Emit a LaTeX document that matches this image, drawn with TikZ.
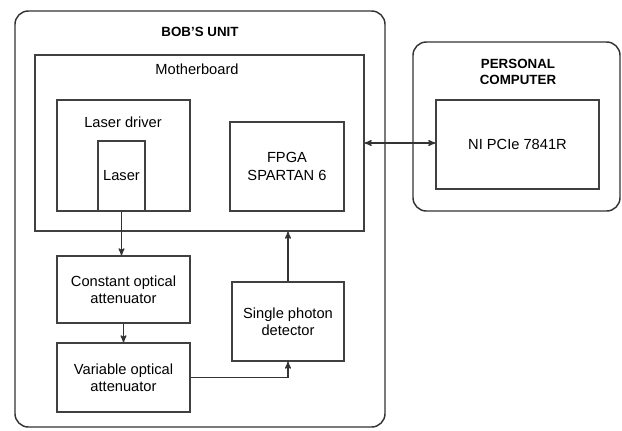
\documentclass[tikz,border=0pt]{standalone}
\usepackage{fontspec}
\setmainfont{Liberation Sans}
\usepackage{tikz}
\usetikzlibrary{arrows,positioning,calc}
\tikzset{
>=stealth',
  unit/.style={
    rectangle,
    rounded corners=10pt,
    draw=black!80, line width=1.1pt},
  block/.style={
    rectangle,
    draw=black!75, line width=0.9pt,
    align=center,
    inner sep=0pt},
  title/.style={font=\bfseries, align=center},
  line/.style={draw=black!80, line width=0.9pt, ->},
}

\begin{document}
\begin{tikzpicture}[x=0.75pt,y=-0.75pt,font=\fontsize{11}{13}\selectfont]
      \useasboundingbox (0,0) rectangle (622,430);

      % bob's unit
      \node (bob) at (200,219) [unit, minimum width=370*0.75pt, minimum height=416*0.75pt] {};
      \node (bobtitle) at (200,32) [title] {BOB'S UNIT};

      \node (mb) at (199.5,143) [block, minimum width=329*0.75pt, minimum height=176*0.75pt] {};
      \node (mbtitle) at (197,69) {Motherboard};

      \node (drv) at (123.5,155.5) [block, minimum width=133*0.75pt, minimum height=111*0.75pt] {};
      \node (drvtitle) at (123,122) {Laser driver};
      \node (laser) at (121.5,176) [block, minimum width=47*0.75pt, minimum height=70*0.75pt] {Laser};

      \node (fpga) at (287,166.5) [block, minimum width=114*0.75pt, minimum height=89*0.75pt] {FPGA\\SPARTAN 6};

      \node (coa) at (123.5,289.5) [block, minimum width=133*0.75pt, minimum height=67*0.75pt] {Constant optical\\attenuator};
      \node (voa) at (123.5,377.5) [block, minimum width=133*0.75pt, minimum height=69*0.75pt] {Variable optical\\attenuator};
      \node (spd) at (288,321.5) [block, minimum width=112*0.75pt, minimum height=79*0.75pt] {Single photon\\detector};

      % personal computer
      \node (pc) at (516.5,126.5) [unit, minimum width=207*0.75pt, minimum height=169*0.75pt] {};
      \node (pctitle) at (518,72) [title] {PERSONAL\\COMPUTER};
      \node (ni) at (517.5,144.5) [block, minimum width=163*0.75pt, minimum height=89*0.75pt] {NI PCIe 7841R};

      \draw[line] (laser.south) -- (laser.south |- coa.north);
      \draw[line] (coa.south) -- (voa.north);
      \draw[line] (voa.east) -| (spd.south);
      \draw[line] (spd.north) -- (spd.north |- mb.south);
      \draw[line, <->] (mb.east) -- (mb.east -| ni.west);
    \end{tikzpicture}
\end{document}
